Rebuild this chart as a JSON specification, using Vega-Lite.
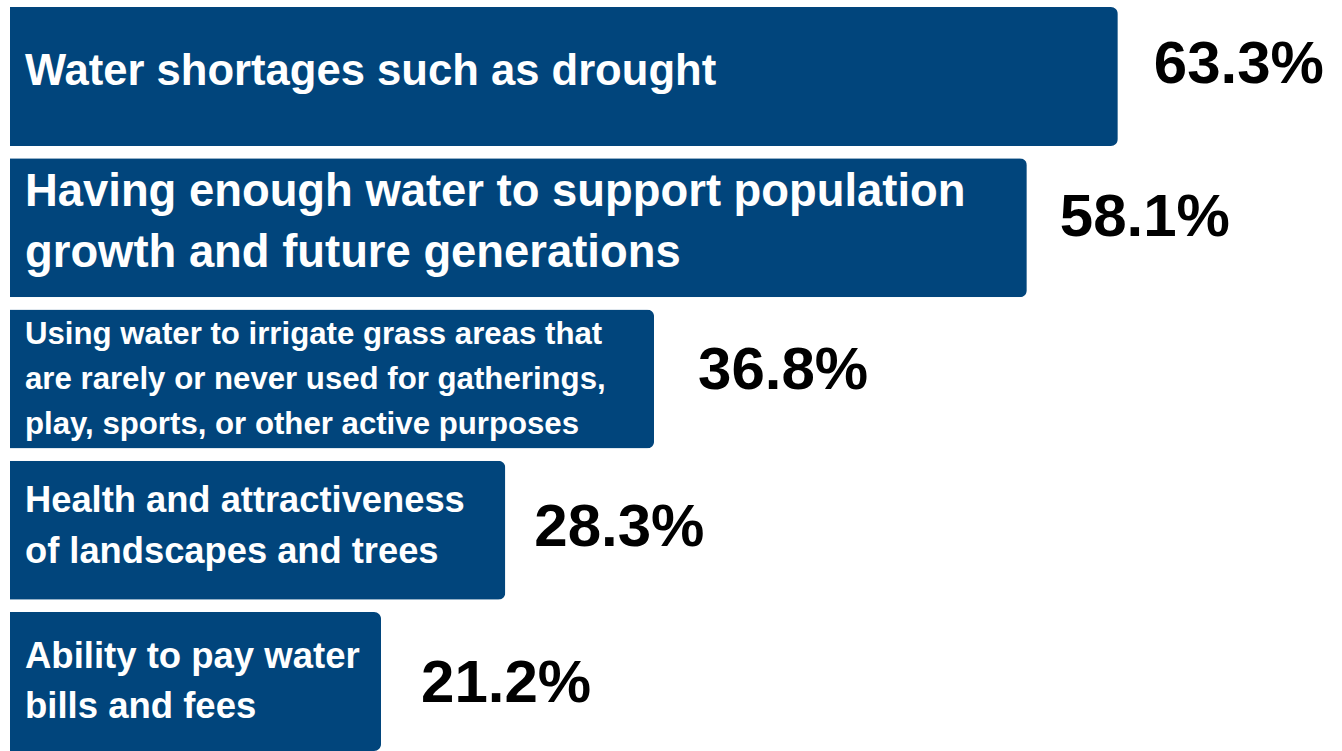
{
  "$schema": "https://vega.github.io/schema/vega-lite/v6.json",
  "autosize": {"type": "none"},
  "padding": {"left": 10, "top": 7, "right": 0, "bottom": 0},
  "width": 1332,
  "height": 744,
  "background": "white",
  "config": {"view": {"stroke": null}},
  "data": {
    "values": [
      {"id": "A", "label": "Water shortages such as drought", "value": 0.633},
      {"id": "B", "label": "Having enough water to support population\ngrowth and future generations", "value": 0.581},
      {"id": "C", "label": "Using water to irrigate grass areas that\nare rarely or never used for gatherings,\nplay, sports, or other active purposes", "value": 0.368},
      {"id": "D", "label": "Health and attractiveness\nof landscapes and trees", "value": 0.283},
      {"id": "E", "label": "Ability to pay water\nbills and fees", "value": 0.212}
    ]
  },
  "encoding": {
    "y": {"field": "id", "type": "nominal", "sort": null, "axis": null,
          "scale": {"paddingInner": 0.082, "paddingOuter": 0}}
  },
  "layer": [
    {
      "mark": {"type": "bar", "color": "#01457c", "cornerRadiusEnd": 7},
      "encoding": {
        "x": {"field": "value", "type": "quantitative", "axis": null,
              "scale": {"domain": [0, 0.7611], "nice": false, "zero": true}}
      }
    },
    {
      "transform": [{"filter": "datum.id === 'A'"}],
      "mark": {"type": "text", "align": "left", "baseline": "middle", "dx": 36, "dy": -11,
               "font": "Liberation Sans", "fontWeight": "bold", "fontSize": 60, "color": "#000000"},
      "encoding": {"x": {"field": "value", "type": "quantitative"}, "text": {"field": "value", "type": "quantitative", "format": ".1%"}}
    },
    {
      "transform": [{"filter": "datum.id === 'B'"}],
      "mark": {"type": "text", "align": "left", "baseline": "middle", "dx": 33, "dy": -10,
               "font": "Liberation Sans", "fontWeight": "bold", "fontSize": 60, "color": "#000000"},
      "encoding": {"x": {"field": "value", "type": "quantitative"}, "text": {"field": "value", "type": "quantitative", "format": ".1%"}}
    },
    {
      "transform": [{"filter": "datum.id === 'C'"}],
      "mark": {"type": "text", "align": "left", "baseline": "middle", "dx": 44, "dy": -8,
               "font": "Liberation Sans", "fontWeight": "bold", "fontSize": 60, "color": "#000000"},
      "encoding": {"x": {"field": "value", "type": "quantitative"}, "text": {"field": "value", "type": "quantitative", "format": ".1%"}}
    },
    {
      "transform": [{"filter": "datum.id === 'D'"}],
      "mark": {"type": "text", "align": "left", "baseline": "middle", "dx": 29, "dy": -2,
               "font": "Liberation Sans", "fontWeight": "bold", "fontSize": 60, "color": "#000000"},
      "encoding": {"x": {"field": "value", "type": "quantitative"}, "text": {"field": "value", "type": "quantitative", "format": ".1%"}}
    },
    {
      "transform": [{"filter": "datum.id === 'E'"}],
      "mark": {"type": "text", "align": "left", "baseline": "middle", "dx": 40, "dy": 2,
               "font": "Liberation Sans", "fontWeight": "bold", "fontSize": 60, "color": "#000000"},
      "encoding": {"x": {"field": "value", "type": "quantitative"}, "text": {"field": "value", "type": "quantitative", "format": ".1%"}}
    },
    {
      "transform": [{"filter": "datum.id === 'A'"}],
      "mark": {"type": "text", "align": "left", "baseline": "middle", "dx": 15, "dy": -4,
               "font": "Liberation Sans", "fontWeight": "bold", "fontSize": 43.6, "color": "white", "lineBreak": "\n", "lineHeight": 60},
      "encoding": {"x": {"datum": 0, "type": "quantitative"}, "text": {"field": "label"}}
    },
    {
      "transform": [{"filter": "datum.id === 'B'"}],
      "mark": {"type": "text", "align": "left", "baseline": "middle", "dx": 15, "dy": -36,
               "font": "Liberation Sans", "fontWeight": "bold", "fontSize": 45.4, "color": "white", "lineBreak": "\n", "lineHeight": 61},
      "encoding": {"x": {"datum": 0, "type": "quantitative"}, "text": {"field": "label"}}
    },
    {
      "transform": [{"filter": "datum.id === 'C'"}],
      "mark": {"type": "text", "align": "left", "baseline": "middle", "dx": 15, "dy": -44,
               "font": "Liberation Sans", "fontWeight": "bold", "fontSize": 31.2, "color": "white", "lineBreak": "\n", "lineHeight": 45},
      "encoding": {"x": {"datum": 0, "type": "quantitative"}, "text": {"field": "label"}}
    },
    {
      "transform": [{"filter": "datum.id === 'D'"}],
      "mark": {"type": "text", "align": "left", "baseline": "middle", "dx": 15, "dy": -29,
               "font": "Liberation Sans", "fontWeight": "bold", "fontSize": 36.3, "color": "white", "lineBreak": "\n", "lineHeight": 51},
      "encoding": {"x": {"datum": 0, "type": "quantitative"}, "text": {"field": "label"}}
    },
    {
      "transform": [{"filter": "datum.id === 'E'"}],
      "mark": {"type": "text", "align": "left", "baseline": "middle", "dx": 15, "dy": -25,
               "font": "Liberation Sans", "fontWeight": "bold", "fontSize": 36.5, "color": "white", "lineBreak": "\n", "lineHeight": 50},
      "encoding": {"x": {"datum": 0, "type": "quantitative"}, "text": {"field": "label"}}
    }
  ]
}
